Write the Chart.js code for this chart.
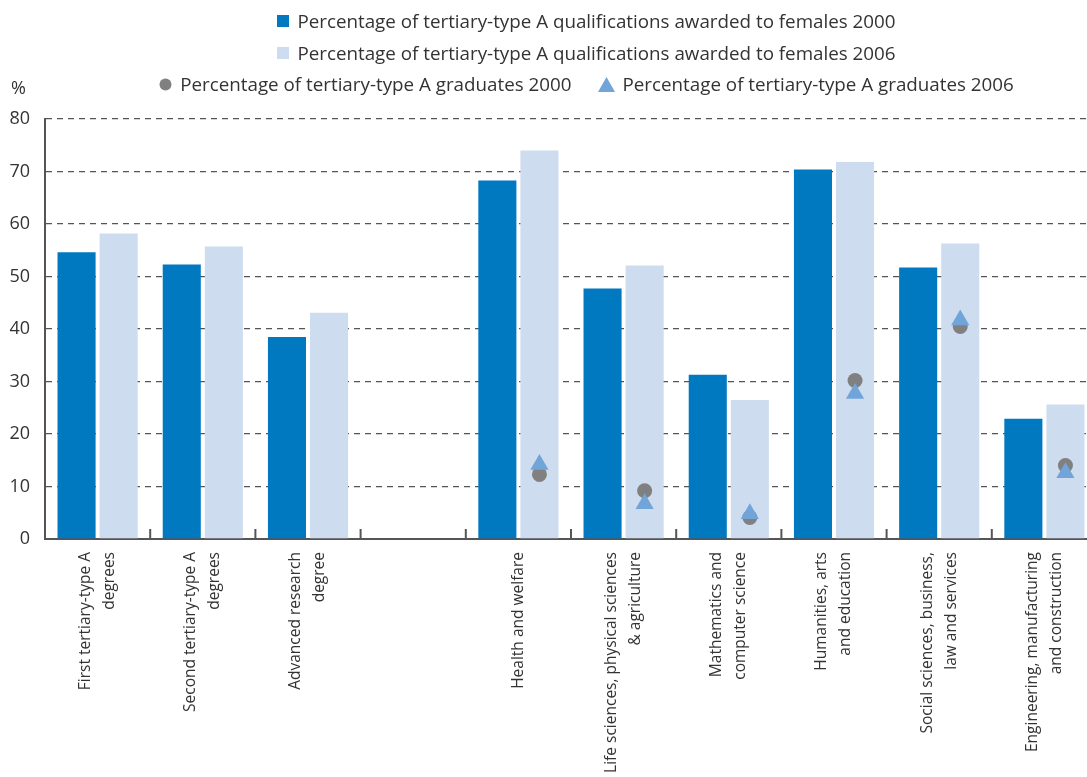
<!DOCTYPE html>
<html lang="en">
<head>
<meta charset="UTF-8">
<title>Tertiary-type A qualifications awarded to females</title>
<script src="https://cdn.jsdelivr.net/npm/chart.js"></script>
<style>
    html, body {
        margin: 0;
        padding: 0;
        width: 1087px;
        height: 777px;
        overflow: hidden;
        background: #ffffff;
        font-family: 'Open Sans', sans-serif;
        color: #333333;
    }
    .wrap {
        position: relative;
        width: 1097px;
        height: 777px;
    }
    .legend-row {
        position: absolute;
        left: 0;
        width: 1173px;
        height: 24px;
        display: flex;
        justify-content: center;
        align-items: center;
        font-size: 18.8px;
        color: #333333;
        white-space: nowrap;
    }
    .legend-item {
        display: flex;
        align-items: center;
    }
    .legend-item + .legend-item { margin-left: 26px; }
    .legend-item svg { margin-right: 8px; }
    .unit {
        position: absolute;
        left: 11px;
        top: 75px;
        font-size: 18px;
        color: #333333;
    }
</style>
</head>
<body>
<div class="wrap">
    <div class="legend-row" style="top:9px">
        <div class="legend-item"><svg width="12" height="12"><rect width="12" height="12" fill="#0079C1"/></svg><span id="lg0"></span></div>
    </div>
    <div class="legend-row" style="top:41px">
        <div class="legend-item"><svg width="12" height="12"><rect width="12" height="12" fill="#CDDCEE"/></svg><span id="lg1"></span></div>
    </div>
    <div class="legend-row" style="top:72px">
        <div class="legend-item"><svg width="13" height="13"><circle cx="6.5" cy="6.5" r="6" fill="#808080"/></svg><span id="lg2"></span></div>
        <div class="legend-item"><svg width="17" height="15"><polygon points="8.5,0 17,15 0,15" fill="#71A5DA"/></svg><span id="lg3"></span></div>
    </div>
    <div class="unit">%</div>
    <canvas id="chart"></canvas>
</div>
<script>
    const categories = [
        ['First tertiary-type A', 'degrees'],
        ['Second tertiary-type A', 'degrees'],
        ['Advanced research', 'degree'],
        '',
        'Health and welfare',
        ['Life sciences, physical sciences', '& agriculture'],
        ['Mathematics and', 'computer science'],
        ['Humanities, arts', 'and education'],
        ['Social sciences, business,', 'law and services'],
        ['Engineering, manufacturing', 'and construction']
    ];
    const seriesNames = [
        'Percentage of tertiary-type A qualifications awarded to females 2000',
        'Percentage of tertiary-type A qualifications awarded to females 2006',
        'Percentage of tertiary-type A graduates 2000',
        'Percentage of tertiary-type A graduates 2006'
    ];
    const females2000 = [54.6, 52.3, 38.5, null, 68.3, 47.7, 31.3, 70.4, 51.7, 22.9];
    const females2006 = [58.2, 55.7, 43.1, null, 74.0, 52.1, 26.5, 71.8, 56.3, 25.6];
    const graduates2000 = [null, null, null, null, 12.3, 9.2, 4.1, 30.2, 40.5, 14.0];
    const graduates2006 = [null, null, null, null, 14.2, 6.7, 4.8, 27.7, 41.7, 12.6];
    const yTicks = [0, 10, 20, 30, 40, 50, 60, 70, 80];

    seriesNames.forEach((name, i) => { document.getElementById('lg' + i).textContent = name; });

    // 2000 bar on the left half of a category, 2006 bar (and graduate markers) on the right half
    const leftShift = -0.2;
    const rightShift = 0.2;
    function toPoints(values, shift) {
        return values.map((v, i) => v === null ? null : { x: i + shift, y: v }).filter(p => p);
    }

    // small upward ticks between categories on the x axis
    const innerTicks = {
        id: 'innerTicks',
        afterDatasetsDraw(chart) {
            const xs = chart.scales.x;
            const ctx = chart.ctx;
            const bottom = chart.chartArea.bottom;
            ctx.save();
            ctx.strokeStyle = '#555555';
            ctx.lineWidth = 2;
            for (let i = 1; i < categories.length; i++) {
                const px = (xs.getPixelForValue(i - 1) + xs.getPixelForValue(i)) / 2;
                ctx.beginPath();
                ctx.moveTo(px, bottom);
                ctx.lineTo(px, bottom - 10);
                ctx.stroke();
            }
            ctx.restore();
        }
    };

    // vertical category labels, lines centred on the category
    const categoryLabels = {
        id: 'categoryLabels',
        afterDraw(chart) {
            const xs = chart.scales.x;
            const ctx = chart.ctx;
            const top = chart.chartArea.bottom + 13;
            const lineGap = 24;
            ctx.save();
            ctx.font = '15.5px "Open Sans"';
            ctx.fillStyle = '#333333';
            ctx.textAlign = 'right';
            ctx.textBaseline = 'middle';
            categories.forEach((label, i) => {
                const lines = Array.isArray(label) ? label : [label];
                const cx = xs.getPixelForValue(i);
                lines.forEach((line, k) => {
                    const x = cx + (k - (lines.length - 1) / 2) * lineGap;
                    ctx.save();
                    ctx.translate(x, top);
                    ctx.rotate(-Math.PI / 2);
                    ctx.fillText(line, 0, 0);
                    ctx.restore();
                });
            });
            ctx.restore();
        }
    };

    new Chart(document.getElementById('chart'), {
        type: 'bar',
        data: {
            labels: categories,
            datasets: [
                {
                    label: seriesNames[0],
                    data: toPoints(females2000, leftShift),
                    xAxisID: 'x2',
                    grouped: false,
                    backgroundColor: '#0079C1',
                    categoryPercentage: 1,
                    barPercentage: 0.905,
                    order: 3
                },
                {
                    label: seriesNames[1],
                    data: toPoints(females2006, rightShift),
                    xAxisID: 'x2',
                    grouped: false,
                    backgroundColor: '#CDDCEE',
                    categoryPercentage: 1,
                    barPercentage: 0.905,
                    order: 3
                },
                {
                    type: 'line',
                    label: seriesNames[2],
                    data: toPoints(graduates2000, rightShift),
                    xAxisID: 'x2',
                    showLine: false,
                    pointStyle: 'circle',
                    pointRadius: 7.5,
                    pointBorderWidth: 0,
                    backgroundColor: '#808080',
                    borderColor: '#808080',
                    order: 2
                },
                {
                    type: 'line',
                    label: seriesNames[3],
                    data: toPoints(graduates2006, rightShift),
                    xAxisID: 'x2',
                    showLine: false,
                    pointStyle: 'triangle',
                    pointRadius: 10.5,
                    pointBorderWidth: 0,
                    backgroundColor: '#71A5DA',
                    borderColor: '#71A5DA',
                    order: 1
                }
            ]
        },
        options: {
            responsive: true,
            maintainAspectRatio: false,
            animation: false,
            layout: { autoPadding: false, padding: { top: 119, right: 0, left: 0, bottom: 0 } },
            plugins: {
                legend: { display: false },
                tooltip: { enabled: false }
            },
            scales: {
                x: {
                    type: 'category',
                    offset: true,
                    grid: { display: false, drawTicks: false },
                    border: { display: true, color: '#555555', width: 2 },
                    ticks: { display: false },
                    afterFit(scale) { scale.height = 238; }
                },
                x2: {
                    type: 'linear',
                    display: false,
                    offset: false,
                    grid: { offset: false },
                    min: -0.5,
                    max: categories.length - 0.5,
                    ticks: { stepSize: 1 }
                },
                y: {
                    min: 0,
                    max: 80,
                    afterBuildTicks(scale) { scale.ticks = yTicks.map(v => ({ value: v })); },
                    grid: { color: '#555555', lineWidth: 1.3, drawTicks: false },
                    border: { display: true, color: '#555555', width: 2, dash: [6, 5] },
                    ticks: {
                        padding: 15,
                        color: '#333333',
                        font: { family: 'Open Sans', size: 18 }
                    },
                    afterFit(scale) { scale.width = 45; }
                }
            }
        },
        plugins: [innerTicks, categoryLabels]
    });
</script>
</body>
</html>
